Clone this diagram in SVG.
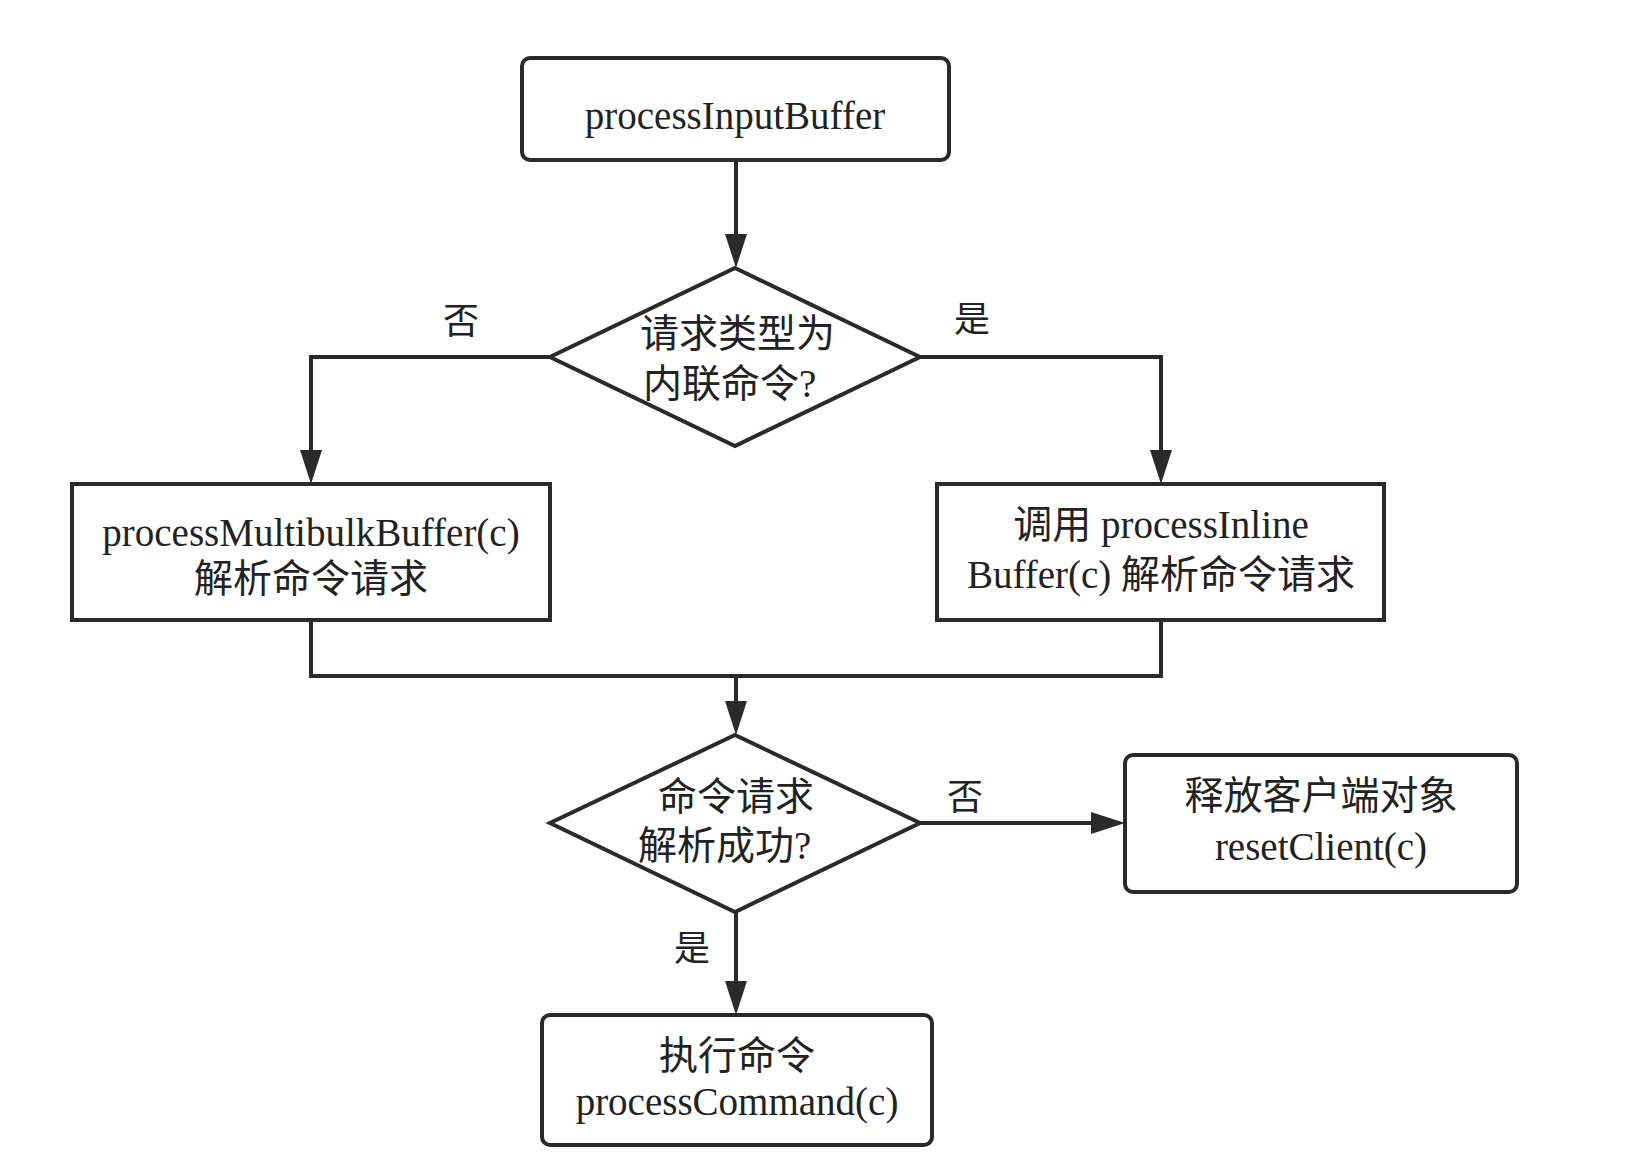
<svg xmlns="http://www.w3.org/2000/svg" width="1628" height="1168" viewBox="0 0 1628 1168">
<style>
.box{fill:#fff;stroke:#2a2a2a;stroke-width:4}
.dia{fill:#fff;stroke:#2a2a2a;stroke-width:4;stroke-linejoin:miter}
.con{fill:none;stroke:#2a2a2a;stroke-width:4}
.t{font-family:"Liberation Serif","Noto Sans CJK SC",serif;font-size:39px;fill:#222}
.c{text-anchor:middle}
.lbl{font-family:"Liberation Serif","Noto Sans CJK SC",serif;font-size:36px;fill:#222;text-anchor:middle}
</style>
<defs>
<marker id="arr" markerUnits="userSpaceOnUse" markerWidth="40" markerHeight="30" refX="26" refY="11" orient="auto">
<path d="M0,0 L34,11 L0,22 z" fill="#2a2a2a"/>
</marker>
</defs>
<rect width="1628" height="1168" fill="#fff"/>
<g id="connectors">
<path class="con" d="M736,160 V260" marker-end="url(#arr)"/>
<path class="con" d="M550,357 H311 V476" marker-end="url(#arr)"/>
<path class="con" d="M920,357 H1161 V476" marker-end="url(#arr)"/>
<path class="con" d="M311,620 V676 H1161 V620"/>
<path class="con" d="M736,676 V727" marker-end="url(#arr)"/>
<path class="con" d="M920,823 H1117" marker-end="url(#arr)"/>
<path class="con" d="M736,912 V1007" marker-end="url(#arr)"/>
<text class="lbl" x="461" y="334">否</text>
<text class="lbl" x="972" y="332">是</text>
<text class="lbl" x="965" y="810">否</text>
<text class="lbl" x="692" y="961">是</text>
</g>
<g id="start">
<rect class="box" x="522" y="58" width="427" height="102" rx="8"/>
<text class="t c" x="735" y="129">processInputBuffer</text>
</g>
<g id="decision1">
<polygon class="dia" points="735,268 920,357 735,446 550,357"/>
<text class="t" x="640" y="347">请求类型为</text>
<text class="t" x="643" y="397">内联命令?</text>
</g>
<g id="multibulk">
<rect class="box" x="72" y="484" width="478" height="136"/>
<text class="t c" x="311" y="546">processMultibulkBuffer(c)</text>
<text class="t c" x="311" y="592">解析命令请求</text>
</g>
<g id="inline">
<rect class="box" x="937" y="484" width="447" height="136"/>
<text class="t c" x="1161" y="538">调用 processInline</text>
<text class="t c" x="1161" y="588">Buffer(c) 解析命令请求</text>
</g>
<g id="decision2">
<polygon class="dia" points="735,735 920,823 735,912 550,823"/>
<text class="t c" x="736" y="810">命令请求</text>
<text class="t" x="638" y="859">解析成功?</text>
</g>
<g id="reset">
<rect class="box" x="1125" y="755" width="392" height="137" rx="8"/>
<text class="t c" x="1321" y="809">释放客户端对象</text>
<text class="t c" x="1321" y="860">resetClient(c)</text>
</g>
<g id="execute">
<rect class="box" x="542" y="1015" width="390" height="130" rx="8"/>
<text class="t c" x="737" y="1069">执行命令</text>
<text class="t c" x="737" y="1115">processCommand(c)</text>
</g>
</svg>
